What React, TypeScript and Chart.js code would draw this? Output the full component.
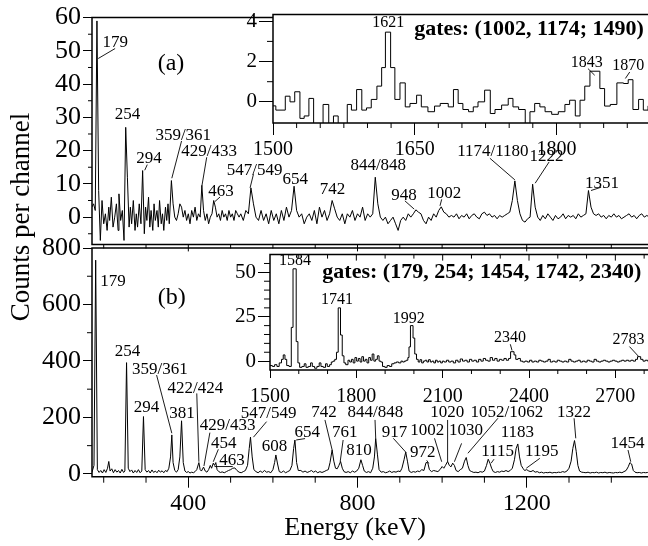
import React, { useEffect, useRef } from 'react';
import { Chart, registerables } from 'chart.js';

Chart.register(...registerables);

const FONT = '"Liberation Serif", "Times New Roman", serif';

// ---------------- data (energy keV, counts per channel) ----------------
const topLowSpectrum: [number, number][] = [
  [172, 3], [176, 4], [180, 2], [184, 59], [188, 8], [192, -7], [196, 5], [200, -2], [204, 1], [208, -4],
  [212, 3], [214, -1], [218, 6], [222, -3], [226, 0], [230, 4], [234, -4], [236, 7], [240, -1], [244, 2],
  [248, -7], [252, 27], [256, 12], [260, -3], [263, 3], [266, -2], [270, 5], [274, -4], [277, 1], [280, -3],
  [284, 4], [288, -2], [292, 14], [296, -5], [299, 3], [302, -1], [306, 6], [309, -3], [312, 2], [316, -4],
  [319, 4], [322, -1], [326, 2], [329, -3], [332, 5], [336, -2], [339, 1], [342, -4], [346, 3], [349, -1],
  [352, 4], [355, -2], [360, 11], [364, 4], [368, 0], [372, -1], [376, 1], [380, 4], [384, 3], [388, 0],
  [392, 2], [396, -1], [400, 1], [404, -2], [408, 2], [412, 0], [416, 3], [420, -1], [424, 1], [428, 0],
  [432, 9.5], [436, 2], [440, -1], [444, 1], [448, -2], [452, 0], [456, 1], [460, 5], [464, 3], [468, 0],
  [472, 1], [476, -1], [480, 2], [484, 0], [488, 1], [492, -1], [496, 2], [500, 0], [504, 1], [508, -1],
  [512, 2], [516, 1], [520, 0],
];
const topHighSpectrum: [number, number][] = [
  [524, 1], [530, -1], [536, 2], [542, 1], [548, 8.8], [554, 4], [560, 0], [566, -1], [572, 2], [578, -1],
  [584, 1], [590, -2], [596, 2], [602, -1], [608, 1], [614, -2], [620, 2], [626, -1], [632, 3], [638, 0],
  [644, 2], [650, 9.3], [656, 2], [662, 0], [668, 1], [674, -2], [680, 0], [686, 1], [692, -1], [698, 2],
  [704, -2], [710, 3], [716, 0], [722, 2], [728, -1], [734, 1], [740, 5], [746, 2.5], [752, 0], [758, -1],
  [764, 1], [770, -2], [776, 1], [782, 0], [788, 2], [794, -1], [800, 1], [806, 0], [812, 3], [818, -1],
  [824, 1], [830, 0], [836, 1], [842, 12], [848, 4], [854, 0], [860, -1], [866, 0], [872, -2], [878, -1],
  [884, 0], [890, -2], [896, -4], [902, -1], [908, 0], [914, -1], [920, 1], [926, 0], [932, 1], [938, 2.2],
  [944, 1.5], [950, 1], [956, -1], [962, -2], [968, 0], [974, -1], [980, 1], [986, 0], [992, 2], [998, 3.1],
  [1004, 1.5], [1010, 1], [1016, 0], [1022, 0.5], [1028, 0], [1034, 1], [1040, -0.5], [1046, 0.5], [1052, 0], [1058, 1],
  [1064, -0.5], [1070, 0.5], [1076, 1], [1082, 0], [1088, -0.5], [1094, 1], [1100, 1.5], [1106, 0.5], [1112, 1], [1118, 0],
  [1124, 0.5], [1130, -0.5], [1136, 0.5], [1142, 0], [1148, 0.5], [1154, 1], [1160, 1.5], [1166, 5], [1172, 10.9], [1178, 5],
  [1184, 1], [1190, -1], [1196, -1.5], [1202, -0.5], [1208, 0], [1214, 9.9], [1220, 3], [1226, 0], [1232, -1], [1238, 0.5],
  [1244, -0.5], [1250, 1], [1256, 0], [1262, -1], [1268, 0.5], [1274, -0.5], [1280, 0], [1286, 1], [1292, -0.5], [1298, 0.5],
  [1304, 0], [1310, 0.5], [1316, -0.5], [1322, 1], [1328, 0], [1334, 0.5], [1340, 1], [1346, 8], [1352, 3], [1358, 1],
  [1364, 0.5], [1370, 1], [1376, 0], [1382, 0.5], [1388, -0.5], [1394, 0.5], [1400, 0], [1406, 1], [1412, 0], [1418, 0.5],
  [1424, -0.5], [1430, 0], [1436, 0.5], [1442, 1], [1448, 0], [1454, 0.5], [1460, -0.5], [1466, 0.5], [1472, 1], [1478, 0],
  [1484, 0.5], [1490, 0], [1496, 0.5], [1502, 0], [1508, 0.5], [1514, 0], [1520, 0.5], [1526, 0],
];
const bottomLowSpectrum: [number, number][] = [
  [172, 5], [177, 30], [181, 757], [185, 15], [189, 5], [193, 12], [197, 3], [201, 15], [205, 5], [209, 20],
  [212, 44], [215, 10], [219, 18], [223, 4], [227, 15], [231, 6], [235, 12], [239, 3], [243, 16], [247, 5],
  [250, 10], [254, 394], [258, 20], [262, 8], [266, 14], [270, 3], [274, 12], [278, 5], [282, 15], [286, 4],
  [290, 10], [294, 203], [298, 15], [302, 6], [306, 12], [310, 3], [314, 14], [318, 5], [322, 10], [326, 4],
  [330, 13], [334, 6], [338, 11], [342, 4], [346, 12], [350, 8], [354, 20], [358, 60], [361, 138], [364, 40],
  [368, 12], [372, 6], [376, 15], [380, 60], [384, 188], [388, 40], [392, 10], [396, 5], [400, 8], [404, 3],
  [408, 6], [412, 4], [416, 8], [420, 15], [425, 40], [428, 15], [431, 10], [436, 24], [440, 10], [444, 6],
  [448, 15], [452, 30], [455, 20], [459, 38], [462, 30], [465, 40], [468, 15], [472, 8], [476, 5], [480, 7],
  [485, 4], [490, 8], [495, 12], [500, 15], [505, 20], [510, 21], [515, 12], [520, 6],
];
const bottomHighSpectrum: [number, number][] = [
  [525, 4], [530, 8], [535, 12], [540, 30], [544, 90], [547, 130], [551, 60], [555, 15], [560, 8], [565, 4],
  [570, 10], [575, 5], [580, 12], [585, 6], [590, 8], [595, 4], [600, 15], [604, 40], [607, 67], [611, 35],
  [615, 8], [620, 5], [625, 10], [630, 4], [635, 8], [640, 12], [645, 30], [649, 90], [652, 120], [656, 40],
  [660, 12], [666, 12], [671, 6], [676, 10], [681, 5], [686, 8], [691, 12], [696, 6], [701, 10], [706, 4],
  [711, 8], [716, 5], [721, 8], [726, 12], [731, 15], [735, 40], [740, 85], [744, 45], [748, 20], [752, 18],
  [756, 30], [760, 44], [764, 20], [768, 8], [773, 5], [778, 8], [783, 4], [788, 10], [793, 6], [798, 10],
  [803, 20], [808, 50], [812, 30], [816, 10], [821, 5], [826, 8], [831, 4], [836, 20], [840, 60], [843, 126],
  [847, 70], [851, 15], [856, 6], [861, 8], [866, 4], [871, 6], [876, 10], [881, 5], [886, 8], [891, 6],
  [896, 10], [901, 8], [905, 20], [910, 50], [914, 77], [918, 45], [922, 10], [927, 5], [932, 8], [937, 6],
  [942, 10], [947, 8], [952, 15], [957, 12], [962, 40], [966, 40], [970, 15], [975, 8], [980, 12], [985, 10],
  [990, 8], [995, 15], [1000, 26], [1004, 20], [1008, 30], [1013, 44], [1017, 30], [1021, 25], [1025, 38], [1029, 30],
  [1033, 12], [1038, 8], [1043, 15], [1048, 20], [1053, 45], [1057, 58], [1061, 30], [1065, 12], [1070, 8], [1075, 5],
  [1080, 6], [1085, 4], [1090, 8], [1095, 6], [1100, 10], [1105, 30], [1109, 52], [1113, 38], [1117, 20], [1121, 8],
  [1126, 5], [1131, 8], [1136, 6], [1141, 10], [1146, 8], [1151, 12], [1156, 8], [1161, 12], [1166, 20], [1171, 50],
  [1175, 90], [1179, 106], [1183, 60], [1187, 30], [1191, 20], [1195, 12], [1200, 15], [1205, 10], [1210, 8], [1215, 12],
  [1220, 6], [1225, 8], [1230, 4], [1235, 6], [1240, 3], [1245, 5], [1250, 4], [1255, 6], [1260, 3], [1265, 5],
  [1270, 4], [1275, 6], [1280, 5], [1285, 8], [1290, 6], [1295, 10], [1300, 20], [1305, 45], [1309, 90], [1313, 118],
  [1317, 80], [1321, 30], [1325, 10], [1330, 6], [1335, 5], [1340, 4], [1345, 6], [1350, 3], [1355, 5], [1360, 4],
  [1365, 6], [1370, 3], [1375, 5], [1380, 4], [1385, 6], [1390, 3], [1395, 5], [1400, 4], [1405, 3], [1410, 5],
  [1415, 4], [1420, 6], [1425, 4], [1430, 8], [1435, 12], [1440, 25], [1444, 40], [1448, 35], [1452, 12], [1456, 6],
  [1461, 4], [1466, 5], [1471, 3], [1476, 5], [1481, 4], [1486, 5], [1491, 3], [1496, 4], [1501, 3], [1506, 5],
  [1511, 3], [1516, 4], [1521, 3], [1526, 4],
];
// inset histograms: [bin start keV, counts]
const insetASpectrum: [number, number][] = [
  [1500, -0.2], [1503, -0.41], [1513, 0.28], [1518, 0.0], [1523, 0.5], [1528.5, -0.82], [1533, -0.7], [1538, 0.17],
  [1543, -1.3], [1553, -0.13], [1559, -1.3], [1564, -0.7], [1569, -1.3], [1578.6, -0.13], [1583, -0.41], [1588.5, 0.61],
  [1594, -0.41], [1599, -0.3], [1604, 0.12], [1610, 0.78], [1615, 1.7], [1619, 3.46], [1624.5, 1.7], [1629, 0.12],
  [1634.4, 0.94], [1640, -0.25], [1645, -0.08], [1652, 0.33], [1657, -0.25], [1664, -0.49], [1671, -0.21], [1677, -0.08],
  [1685.5, -0.25], [1691, 0.61], [1696, -0.08], [1701, -0.38], [1707, -0.49], [1712, -0.25], [1717, 0.0], [1724, 0.58],
  [1730, -0.58], [1735, -0.38], [1742, -0.16], [1749, 0.17], [1754, -0.25], [1760, -0.38], [1767, -1.3], [1772, -0.49],
  [1777, -0.08], [1782.5, -0.25], [1788, -0.49], [1795, -0.62], [1802, -0.49], [1809, -0.13], [1814, 0.08], [1820, -0.7],
  [1825, 0.08], [1830, 0.78], [1835.5, 1.52], [1846, 0.66], [1851, -0.21], [1857, -0.13], [1864, 0.94], [1871, 0.91],
  [1876, 1.1], [1881, -0.38], [1887, 0.12], [1892, -0.41], [1897, -0.2], [1903, 0.1], [1909, -0.3], [1916, -0.3],
];
const insetBSpectrum: [number, number][] = [
  [1500, -2.5], [1508, -3], [1516, -2], [1524, -3], [1532, -1], [1540, 1], [1546, 3.5], [1552, 1], [1558, -2.5], [1566, -3],
  [1574, 19], [1580, 52], [1591, 11], [1597, -1], [1603, -3.5], [1611, -3], [1619, -1.5], [1625, -3.5], [1633, -3], [1641, -1],
  [1647, -3], [1655, -4], [1663, -3], [1671, -1], [1677, -3], [1685, -3.5], [1693, -1.5], [1699, -3], [1707, -2], [1713, -0.5],
  [1719, 0], [1725, 1], [1731, 5], [1737, 30], [1745, 14.7], [1751, 3], [1757, -1], [1763, -2], [1771, 0.5], [1777, -0.5],
  [1783, 1], [1789, -1], [1795, 2], [1801, 0], [1807, 1.5], [1813, -0.5], [1819, 2.5], [1825, 0], [1831, 1], [1837, -1],
  [1843, 2], [1849, 0.5], [1855, 4], [1861, 0], [1867, 1], [1873, 3], [1879, 0], [1885, -0.5], [1891, -3], [1899, -3.5],
  [1907, -2.5], [1915, -3], [1923, -1.5], [1931, -1], [1939, -0.5], [1947, -1], [1955, 0], [1961, -0.5], [1967, 0], [1973, 0.5],
  [1979, 2], [1983, 8], [1988, 20], [1997, 13], [2003, 4], [2009, 1], [2015, -0.5], [2021, 0.8], [2027, -1], [2033, 0],
  [2039, 0.5], [2045, -0.5], [2051, 0.8], [2057, -0.5], [2063, 0], [2069, -1], [2075, 0.5], [2081, -0.5], [2087, 0], [2093, -1],
  [2099, 0], [2105, -0.5], [2113, 0.5], [2121, -0.5], [2129, 0], [2137, -1], [2145, 0.5], [2153, -0.5], [2161, 1.2], [2169, 0],
  [2177, 0.5], [2185, -0.5], [2193, 1], [2201, 0], [2209, 0.5], [2217, -0.5], [2225, 1], [2233, 0], [2241, 1.5], [2249, 0.5],
  [2257, 0], [2265, 2], [2273, 0.5], [2281, 1.5], [2289, 0], [2297, 1], [2305, 0.5], [2313, 1.5], [2321, 0.5], [2329, 1.5],
  [2336, 5.3], [2348, 3.5], [2354, 1], [2362, 1.5], [2370, 0], [2378, -0.5], [2386, 0], [2394, -0.5], [2402, 0.5], [2410, -0.5],
  [2418, 0], [2426, -0.5], [2434, 0.5], [2442, 0], [2450, -0.5], [2458, 0], [2466, 1], [2474, -0.5], [2482, 0], [2490, -0.5],
  [2498, 0.5], [2506, 0], [2514, -0.5], [2522, 0], [2530, -0.5], [2538, 1], [2546, 0], [2554, -0.5], [2562, 0], [2570, 0.5],
  [2578, -0.5], [2586, 0], [2594, -0.5], [2602, 0.5], [2610, 0], [2618, -0.5], [2626, 1], [2634, 0], [2642, -0.5], [2650, 0],
  [2658, 0.5], [2666, 0], [2674, -0.5], [2682, 0], [2690, 0.5], [2698, 0], [2706, -0.5], [2714, 0], [2722, 0.5], [2730, 0],
  [2738, 0.5], [2746, 0], [2754, 0.5], [2762, 0], [2770, 1], [2777, 2.5], [2788, 1], [2796, 0], [2804, 0.5], [2812, 0],
  [2820, 0.5], [2828, -0.5], [2836, 0], [2844, -0.5], [2852, 0], [2860, -0.5], [2868, 0], [2876, 0],
];

// axis ranges and tick labels
const mainXRange: [number, number] = [172.3, 1529.3];
const topYRange: [number, number] = [-8.2, 60];
const bottomYRange: [number, number] = [-10, 800];
const insetAXRange: [number, number] = [1500, 1916];
const insetAYRange: [number, number] = [-1.05, 4.33];
const insetBXRange: [number, number] = [1500, 2876];
const insetBYRange: [number, number] = [-5, 60];
const mainXTicks = [400, 800, 1200];
const topYTicks = [0, 10, 20, 30, 40, 50, 60];
const bottomYTicks = [0, 200, 400, 600, 800];
const insetAXTicks = [1500, 1650, 1800];
const insetAYTicks = [0, 2, 4];
const insetBXTicks = [1500, 1800, 2100, 2400, 2700];
const insetBYTicks = [0, 25, 50];

// peak labels: text centre in data units, optional leader line in data units
type Lbl = { t: string; x: number; y: number; line?: number[]; size?: number; bold?: boolean };
const topMainLabels: Lbl[] = [
  { t: '179', x: 227, y: 52.4, line: [187, 47.7, 227, 50.7] },
  { t: '(a)', x: 359, y: 46.1, size: 24 },
  { t: '254', x: 256, y: 31 },
  { t: '294', x: 307, y: 17.5, line: [303, 15.8, 297, 14.1] },
  { t: '359/361', x: 388, y: 24.4, line: [384, 22.9, 361, 11.7] },
  { t: '429/433', x: 449, y: 19.7, line: [443.5, 18, 432, 9.3] },
  { t: '463', x: 477, y: 7.6, line: [475, 6.05, 463, 4.7] },
  { t: '547/549', x: 557, y: 14.1, line: [554, 12.9, 546, 8.8] },
  { t: '654', x: 653, y: 11.4 },
  { t: '742', x: 741, y: 8.2 },
  { t: '844/848', x: 849, y: 15.5 },
  { t: '948', x: 910, y: 6.6, line: [912, 4.9, 934, 2.4] },
  { t: '1002', x: 1005, y: 7.2, line: [999, 5.35, 995, 3.4] },
  { t: '1174/1180', x: 1120, y: 19.6, line: [1113, 17.7, 1172, 11.2] },
  { t: '1222', x: 1247, y: 18.3, line: [1253, 16.6, 1220, 10.2] },
  { t: '1351', x: 1378, y: 10.2, line: [1376, 9.0, 1352, 8.0] },
];
const insetALabels: Lbl[] = [
  { t: '1621', x: 1622, y: 3.9 },
  { t: 'gates: (1002, 1174; 1490)', x: 1771, y: 3.6, bold: true, size: 22 },
  { t: '1843', x: 1832, y: 1.94, line: [1833.4, 1.65, 1840.5, 1.32] },
  { t: '1870', x: 1876, y: 1.77, line: [1877.6, 1.48, 1873, 1.16] },
];
const bottomMainLabels: Lbl[] = [
  { t: '179', x: 222, y: 680 },
  { t: '(b)', x: 361, y: 623, size: 24 },
  { t: '254', x: 256, y: 435 },
  { t: '359/361', x: 333, y: 371, line: [325, 350, 361, 144] },
  { t: '294', x: 301, y: 235 },
  { t: '381', x: 385, y: 212 },
  { t: '422/424', x: 416.5, y: 303, line: [420, 285, 425, 43] },
  { t: '547/549', x: 590, y: 214.5, line: [585, 185, 554, 130] },
  { t: '429/433', x: 493, y: 170, line: [451, 146, 437, 28] },
  { t: '454', x: 484, y: 109, line: [471, 87, 459, 43] },
  { t: '463', x: 503, y: 49, line: [462, 26, 505, 26] },
  { t: '608', x: 604, y: 96 },
  { t: '654', x: 681, y: 148, line: [655, 120, 676, 125] },
  { t: '742', x: 721, y: 216, line: [723, 191, 740, 85] },
  { t: '761', x: 770, y: 148, line: [766, 120, 759, 43] },
  { t: '810', x: 803.5, y: 81 },
  { t: '844/848', x: 842, y: 216, line: [841.4, 191, 843, 127] },
  { t: '917', x: 887.5, y: 148, line: [884.6, 126, 914.7, 76] },
  { t: '1002', x: 965, y: 153, line: [982, 126, 999, 43] },
  { t: '972', x: 954, y: 74, line: [963.6, 48, 968.5, 37] },
  { t: '1020', x: 1012, y: 216, line: [1013, 191, 1013, 43] },
  { t: '1030', x: 1056.5, y: 152, line: [1046, 108, 1029, 43] },
  { t: '1052/1062', x: 1153, y: 216, line: [1132, 197, 1061, 73] },
  { t: '1183', x: 1178, y: 148 },
  { t: '1115', x: 1131, y: 77.5, line: [1122.7, 52, 1116, 38] },
  { t: '1195', x: 1235.5, y: 77.5, line: [1231, 55, 1199, 20] },
  { t: '1322', x: 1312, y: 216, line: [1312, 197, 1316, 126] },
  { t: '1454', x: 1438, y: 109, line: [1439.5, 84.5, 1446, 43] },
];
const insetBLabels: Lbl[] = [
  { t: '1584', x: 1587, y: 56.3 },
  { t: 'gates: (179, 254; 1454, 1742, 2340)', x: 2236, y: 50, bold: true, size: 22 },
  { t: '1741', x: 1733, y: 34.4 },
  { t: '1992', x: 1982, y: 23.9 },
  { t: '2340', x: 2334, y: 13.1, line: [2335, 9.5, 2341, 6] },
  { t: '2783', x: 2746, y: 12, line: [2749, 8.2, 2781.5, 2.5] },
];

// ---------------- plugins ----------------
const framePlugin = {
  id: 'frame',
  beforeDraw(chart: any, _a: any, o: any) {
    if (!o || !o.fill) return;
    const { ctx, chartArea: a } = chart;
    ctx.save();
    ctx.fillStyle = '#fff';
    ctx.fillRect(a.left, a.top, a.right - a.left, a.bottom - a.top);
    ctx.restore();
  },
  afterDraw(chart: any, _a: any, o: any) {
    const { ctx, chartArea: a } = chart;
    ctx.save();
    ctx.strokeStyle = '#000';
    ctx.lineWidth = 1.5;
    ctx.beginPath();
    if (o.top) { ctx.moveTo(a.left, a.top); ctx.lineTo(a.right, a.top); }
    if (o.bottom) { ctx.moveTo(a.left, a.bottom); ctx.lineTo(a.right, a.bottom); }
    if (o.left) { ctx.moveTo(a.left, a.top - 0.75); ctx.lineTo(a.left, a.bottom + 0.75); }
    ctx.stroke();
    ctx.restore();
  },
};

const minorTicksPlugin = {
  id: 'minorTicks',
  afterDraw(chart: any, _a: any, o: any) {
    const { ctx, chartArea: a } = chart;
    ctx.save();
    ctx.strokeStyle = '#000';
    ctx.lineWidth = 1;
    for (const m of o.marks || []) {
      const s = chart.scales[m.scale];
      const n0 = Math.ceil(s.min / m.step - 1e-6);
      const n1 = Math.floor(s.max / m.step + 1e-6);
      for (let n = n0; n <= n1; n++) {
        const v = n * m.step;
        const isMul = (k: number) => Math.abs(v / k - Math.round(v / k)) < 1e-6;
        if (m.skip && isMul(m.skip)) continue;
        const len = m.major && isMul(m.major) ? m.majorLen : m.len;
        const p = s.getPixelForValue(v);
        ctx.beginPath();
        if (m.edge === 'bottom') {
          if (p < a.left + 1 || p > a.right - 1) continue;
          ctx.moveTo(p, a.bottom); ctx.lineTo(p, a.bottom + m.dir * len);
        } else if (m.edge === 'top') {
          if (p < a.left + 1 || p > a.right - 1) continue;
          ctx.moveTo(p, a.top); ctx.lineTo(p, a.top + m.dir * len);
        } else {
          if (p < a.top + 2 || p > a.bottom - 2) continue;
          ctx.moveTo(a.left, p); ctx.lineTo(a.left - m.dir * len, p);
        }
        ctx.stroke();
      }
    }
    ctx.restore();
  },
};

const labelPlugin = {
  id: 'peakLabels',
  afterDatasetsDraw(chart: any, _a: any, o: any) {
    const { ctx } = chart;
    const xs = chart.scales.x;
    const ys = chart.scales.y;
    ctx.save();
    ctx.fillStyle = '#000';
    ctx.strokeStyle = '#000';
    ctx.lineWidth = 0.9;
    for (const it of (o.items || []) as Lbl[]) {
      if (it.line) {
        ctx.beginPath();
        ctx.moveTo(xs.getPixelForValue(it.line[0]), ys.getPixelForValue(it.line[1]));
        ctx.lineTo(xs.getPixelForValue(it.line[2]), ys.getPixelForValue(it.line[3]));
        ctx.stroke();
      }
      ctx.font = `${it.bold ? 'bold ' : ''}${it.size ?? o.size}px ${FONT}`;
      ctx.textAlign = 'center';
      ctx.textBaseline = 'middle';
      ctx.fillText(it.t, xs.getPixelForValue(it.x), ys.getPixelForValue(it.y));
    }
    ctx.restore();
  },
};

const titlePlugin = {
  id: 'titles',
  afterDraw(chart: any, _a: any, o: any) {
    const { ctx } = chart;
    for (const it of o.items || []) {
      ctx.save();
      ctx.fillStyle = '#000';
      ctx.font = `${it.size}px ${FONT}`;
      ctx.textAlign = 'center';
      ctx.textBaseline = 'middle';
      ctx.translate(it.px, it.py);
      if (it.rot) ctx.rotate(it.rot);
      ctx.fillText(it.t, 0, 0);
      ctx.restore();
    }
  },
};

// ---------------- config builder ----------------
function makeConfig(p: any) {
  const axisBase = (range: [number, number], ticks: number[] | null, font: number, tickLen: number, pad: number) => ({
    type: 'linear',
    min: range[0],
    max: range[1],
    border: { display: false },
    grid: { display: true, drawOnChartArea: false, drawTicks: true, tickLength: tickLen, color: '#000', tickColor: '#000', lineWidth: 1 },
    ticks: {
      font: { family: FONT, size: font },
      color: '#000',
      padding: pad,
      autoSkip: false,
      maxRotation: 0,
      callback: (v: any) => String(v),
    },
    afterBuildTicks: (s: any) => { if (ticks) s.ticks = ticks.map((v) => ({ value: v })); },
  });
  const x: any = axisBase(p.xRange, p.xTicks, p.xFont, p.xTickLen, p.xPad);
  x.display = p.showX;
  x.afterFit = (s: any) => { s.height = p.xHeight; };
  const y: any = axisBase(p.yRange, p.yTicks, p.yFont, p.yTickLen, p.yPad);
  y.afterFit = (s: any) => { s.width = p.yWidth; };
  return {
    type: 'line',
    data: {
      datasets: [{
        data: p.data.map(([ex, cy]: [number, number]) => ({ x: ex, y: cy })),
        borderColor: '#000',
        borderWidth: 1,
        pointRadius: 0,
        tension: 0,
        fill: false,
        stepped: p.stepped ? 'before' : false,
      }],
    },
    options: {
      responsive: false,
      animation: false,
      events: [],
      layout: { padding: p.padding },
      plugins: {
        legend: { display: false },
        tooltip: { enabled: false },
        frame: p.frame,
        minorTicks: { marks: p.marks },
        peakLabels: { items: p.labels, size: p.labelSize },
        titles: { items: p.titles || [] },
      },
      scales: { x, y },
    },
    plugins: [framePlugin, minorTicksPlugin, labelPlugin, titlePlugin],
  };
}

const bottomMainCfg = () => makeConfig({
  data: [...bottomLowSpectrum, ...bottomHighSpectrum],
  xRange: mainXRange, yRange: bottomYRange, xTicks: mainXTicks, yTicks: bottomYTicks,
  xFont: 24, yFont: 26, xTickLen: 11, yTickLen: 9, xPad: 2, yPad: 2,
  showX: true, xHeight: 69.3, yWidth: 92,
  padding: { top: 248, right: 14, left: 0, bottom: 0 },
  frame: { top: true, bottom: true, left: true },
  marks: [
    { scale: 'y', step: 100, len: 5, edge: 'left', dir: 1, skip: 200 },
    { scale: 'x', step: 100, len: 6, edge: 'bottom', dir: 1, skip: 400 },
  ],
  labels: bottomMainLabels, labelSize: 17,
  titles: [
    { t: 'Counts per channel', px: 22, py: 217, size: 27, rot: -Math.PI / 2 },
    { t: 'Energy (keV)', px: 355, py: 528, size: 26 },
  ],
});

const topMainCfg = () => makeConfig({
  data: [...topLowSpectrum, ...topHighSpectrum],
  xRange: mainXRange, yRange: topYRange, xTicks: null, yTicks: topYTicks,
  xFont: 24, yFont: 26, xTickLen: 0, yTickLen: 9, xPad: 0, yPad: 2,
  showX: false, xHeight: 0, yWidth: 92,
  padding: { top: 14, right: 14, left: 0, bottom: 14 },
  frame: { top: true, bottom: true, left: true },
  marks: [
    { scale: 'y', step: 5, len: 4, edge: 'left', dir: 1, skip: 10 },
    { scale: 'x', step: 100, len: 4, edge: 'bottom', dir: 1, major: 400, majorLen: 7 },
  ],
  labels: topMainLabels, labelSize: 17,
});

const insetACfg = () => makeConfig({
  data: insetASpectrum, stepped: true,
  xRange: insetAXRange, yRange: insetAYRange, xTicks: insetAXTicks, yTicks: insetAYTicks,
  xFont: 20, yFont: 21, xTickLen: 12, yTickLen: 14, xPad: 3, yPad: 2,
  showX: true, xHeight: 47, yWidth: 33,
  padding: { top: 14, right: 14, left: 0, bottom: 0 },
  frame: { top: true, bottom: true, left: true, fill: true },
  marks: [
    { scale: 'y', step: 1, len: 6, edge: 'left', dir: 1, skip: 2 },
    { scale: 'x', step: 25, len: 5, edge: 'bottom', dir: 1, skip: 150 },
  ],
  labels: insetALabels, labelSize: 16,
});

const insetBCfg = () => makeConfig({
  data: insetBSpectrum, stepped: true,
  xRange: insetBXRange, yRange: insetBYRange, xTicks: insetBXTicks, yTicks: insetBYTicks,
  xFont: 20, yFont: 21, xTickLen: 8, yTickLen: 12, xPad: 7, yPad: 2,
  showX: true, xHeight: 50, yWidth: 40,
  padding: { top: 8, right: 14, left: 0, bottom: 0 },
  frame: { top: true, bottom: true, left: true, fill: true },
  marks: [
    { scale: 'y', step: 5, len: 6, edge: 'left', dir: 1, skip: 25 },
    { scale: 'x', step: 100, len: 4, edge: 'bottom', dir: 1, skip: 300 },
    { scale: 'x', step: 100, len: 4, edge: 'top', dir: 1, major: 300, majorLen: 6 },
  ],
  labels: insetBLabels, labelSize: 16,
});

export default function App() {
  const bm = useRef<HTMLCanvasElement>(null);
  const tm = useRef<HTMLCanvasElement>(null);
  const ib = useRef<HTMLCanvasElement>(null);
  const ia = useRef<HTMLCanvasElement>(null);
  useEffect(() => {
    const charts = [
      new Chart(bm.current as any, bottomMainCfg() as any),
      new Chart(tm.current as any, topMainCfg() as any),
      new Chart(ib.current as any, insetBCfg() as any),
      new Chart(ia.current as any, insetACfg() as any),
    ];
    return () => charts.forEach((c) => c.destroy());
  }, []);
  const abs = (l: number, t: number): React.CSSProperties => ({ position: 'absolute', left: l, top: t });
  return (
    <div style={{ position: 'fixed', left: 0, top: 0, width: 648, height: 546, overflow: 'hidden', background: '#fff' }}>
      <canvas ref={bm} width={680} height={546} style={abs(0, 0)} />
      <canvas ref={tm} width={680} height={262} style={abs(0, 0)} />
      <canvas ref={ib} width={450} height={180} style={abs(230, 240)} />
      <canvas ref={ia} width={440} height={170} style={abs(240, 0)} />
    </div>
  );
}
